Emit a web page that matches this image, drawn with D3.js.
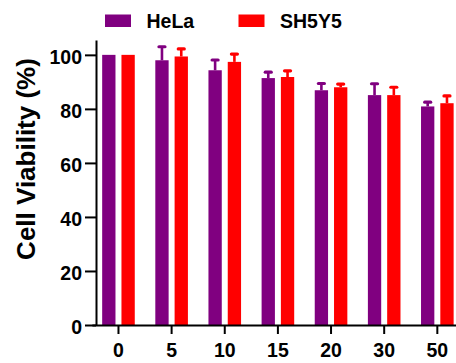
<!DOCTYPE html>
<html>
<head>
<meta charset="utf-8">
<script src="https://cdn.jsdelivr.net/npm/d3@7/dist/d3.min.js"></script>
<style>
  html, body { margin: 0; padding: 0; background: #fff; }
  svg { display: block; }
  text { font-family: "Liberation Sans", Arial, sans-serif; font-weight: bold; fill: #000; }
</style>
</head>
<body>
<svg id="chart" width="456" height="363"></svg>
<script>
// Time points (x categories) and series
const categories = ["0", "5", "10", "15", "20", "30", "50"];
const seriesNames = ["HeLa", "SH5Y5"];
const seriesColors = ["#800080", "#ff0000"];

// Mean cell viability (%) and upper error (SD)
const helaValues = [100, 98.0, 94.3, 91.4, 86.9, 85.1, 80.9];
const helaErrors = [0, 5.0, 3.8, 2.2, 2.5, 4.2, 1.6];
const sh5y5Values = [100, 99.4, 97.4, 91.8, 88.0, 85.1, 82.1];
const sh5y5Errors = [0, 2.8, 2.9, 2.3, 1.2, 2.9, 2.7];

const yTicks = [0, 20, 40, 60, 80, 100];

const values = [helaValues, sh5y5Values];
const errors = [helaErrors, sh5y5Errors];

const svg = d3.select("#chart");

const y = d3.scaleLinear().domain([0, 105.5]).range([325, 40]);
const x = d3.scaleBand().domain(categories).range([91.9, 463.9]).paddingInner(0).paddingOuter(0);
const xs = d3.scaleBand().domain(seriesNames).range([-16.3, 16.3]).paddingInner(0.31).paddingOuter(0);

// Bars
seriesNames.forEach((name, si) => {
  const g = svg.append("g").attr("class", "series");
  categories.forEach((c, ci) => {
    const cx = x(c) + x.bandwidth() / 2;
    const v = values[si][ci];
    g.append("rect")
      .attr("x", cx + xs(name))
      .attr("y", y(v))
      .attr("width", xs.bandwidth())
      .attr("height", y(0) - y(v))
      .attr("fill", seriesColors[si]);
  });
});

// Upper error bars (only where an error is given)
seriesNames.forEach((name, si) => {
  const g = svg.append("g").attr("class", "errors");
  categories.forEach((c, ci) => {
    if (!errors[si][ci]) return;
    const mx = x(c) + x.bandwidth() / 2 + xs(name) + xs.bandwidth() / 2;
    const v = values[si][ci];
    const top = v + errors[si][ci];
    g.append("line")
      .attr("x1", mx).attr("x2", mx)
      .attr("y1", y(v)).attr("y2", y(top))
      .attr("stroke", seriesColors[si]).attr("stroke-width", 2.6);
    g.append("line")
      .attr("x1", mx - 3).attr("x2", mx + 3)
      .attr("y1", y(top)).attr("y2", y(top))
      .attr("stroke", seriesColors[si]).attr("stroke-width", 3.2)
      .attr("stroke-linecap", "round");
  });
});

// Y axis
const yAxis = svg.append("g")
  .attr("transform", "translate(96,0)")
  .call(d3.axisLeft(y).tickValues(yTicks).tickSize(11).tickSizeOuter(0).tickPadding(3));
yAxis.select(".domain").attr("stroke", "#000").attr("stroke-width", 2);
yAxis.selectAll(".tick line").attr("stroke", "#000").attr("stroke-width", 2);
yAxis.selectAll(".tick text")
  .attr("font-size", 19.5).attr("dy", "0.46em")
  .style("font-family", "'Liberation Sans', Arial, sans-serif").style("font-weight", "bold");

// X axis
const xAxis = svg.append("g")
  .attr("transform", "translate(0,325)")
  .call(d3.axisBottom(x).tickSize(9).tickSizeOuter(0).tickPadding(9));
xAxis.select(".domain").attr("stroke", "#000").attr("stroke-width", 2);
xAxis.selectAll(".tick line").attr("stroke", "#000").attr("stroke-width", 2);
xAxis.selectAll(".tick text")
  .attr("font-size", 19.5)
  .style("font-family", "'Liberation Sans', Arial, sans-serif").style("font-weight", "bold");

// Y axis title
svg.append("text")
  .attr("transform", "translate(35,159) rotate(-90)")
  .attr("text-anchor", "middle")
  .attr("font-size", 26)
  .text("Cell Viability (%)");

// Legend
const legendX = [105, 238.5];
seriesNames.forEach((name, si) => {
  svg.append("rect")
    .attr("x", legendX[si]).attr("y", 14.5)
    .attr("width", 26).attr("height", 12.5)
    .attr("fill", seriesColors[si]);
  svg.append("text")
    .attr("x", legendX[si] + 41.5).attr("y", 28)
    .attr("font-size", 19.5)
    .text(name);
});
</script>
</body>
</html>
